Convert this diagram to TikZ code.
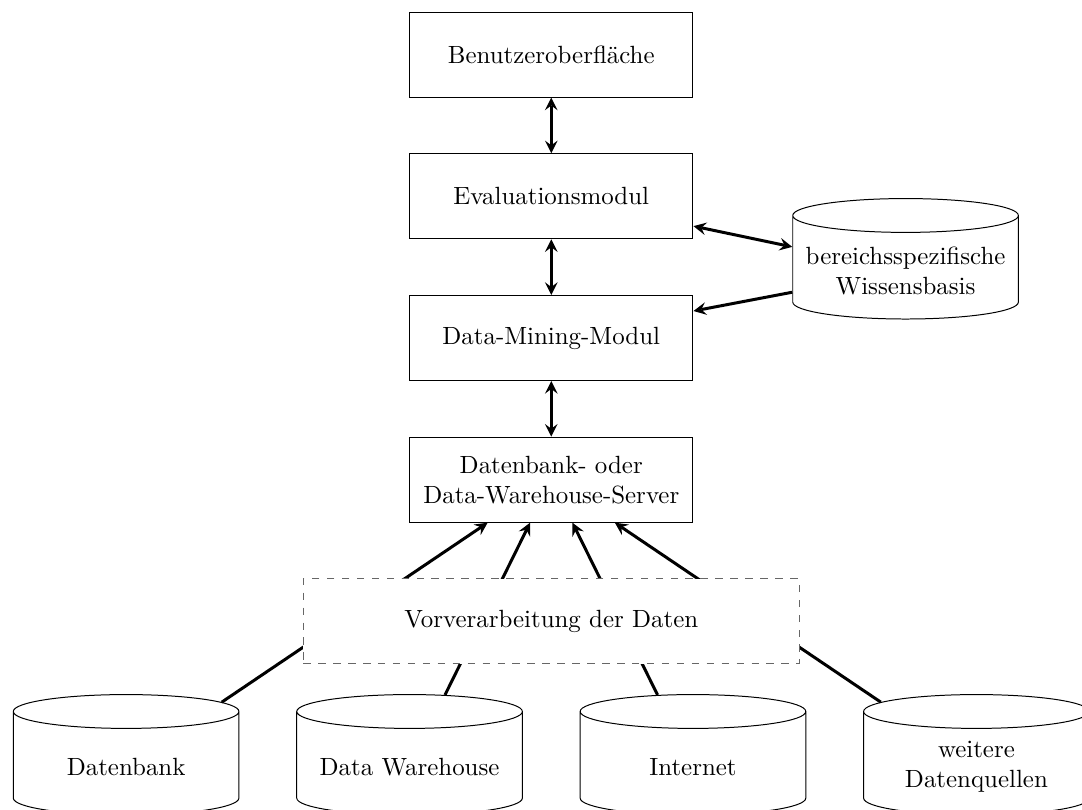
\documentclass[tikz,border=0pt]{standalone}
\usetikzlibrary{shapes.geometric}

\tikzset{
  modul/.style={draw, rectangle, minimum width=4cm, minimum height=1.2cm, align=center},
  speicher/.style={draw, cylinder, shape border rotate=90, aspect=0.15,
    text width=2.95cm, minimum height=1.7cm, align=center},
  vorbox/.style={draw=black!60, dashed, fill=white, minimum width=7cm, minimum height=1.2cm},
  pfeil/.style={very thick}
}

\begin{document}
\begin{tikzpicture}[>=stealth]
    % 0. 画布范围
    \useasboundingbox (-7.78,0.77) rectangle (7.49,-10.66);

    % 1. 中间一列模块
    \node[modul] (gui)    at (0,0)  {Benutzeroberfläche};
    \node[modul] (eval)   at (0,-2) {Evaluationsmodul};
    \node[modul] (mining) at (0,-4) {Data-Mining-Modul};
    \node[modul] (server) at (0,-6) {Datenbank- oder\\Data-Warehouse-Server};

    % 2. 知识库
    \node[speicher] (wissen) at (5,-3.05) {bereichsspezifische\\Wissensbasis};

    % 3. 底部数据源
    \node[speicher] (db)   at (-6,-10.05) {Datenbank};
    \node[speicher] (dw)   at (-2,-10.05) {Data Warehouse};
    \node[speicher] (inet) at (2,-10.05)  {Internet};
    \node[speicher] (sonst) at (6,-10.05) {weitere\\Datenquellen};

    % 4. 模块之间的箭头
    \draw[pfeil, <->] (gui) -- (eval);
    \draw[pfeil, <->] (eval) -- (mining);
    \draw[pfeil, <->] (mining) -- (server);
    \draw[pfeil, <->] (eval) -- (wissen);
    \draw[pfeil, ->] (wissen) -- (mining);

    % 5. 数据源到服务器（被预处理框遮住中间一段）
    \foreach \q in {db, dw, inet, sonst}
        \draw[pfeil, ->] (\q) -- (server);

    % 6. 预处理虚线框
    \node[vorbox] (vor) at (0,-8) {Vorverarbeitung der Daten};

\end{tikzpicture}
\end{document}
